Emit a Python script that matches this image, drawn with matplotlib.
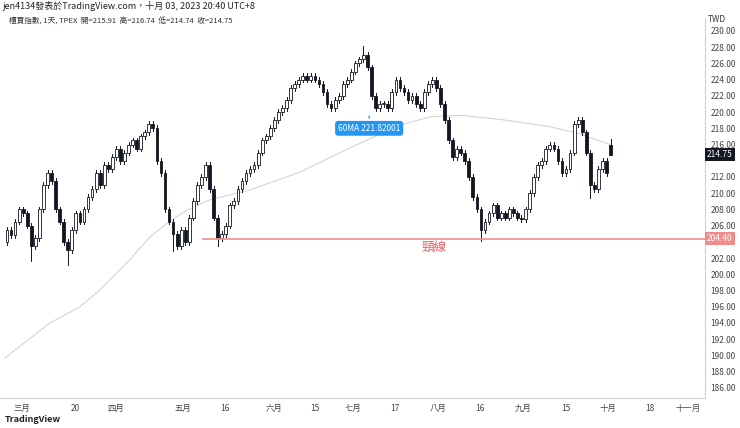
import matplotlib.pyplot as plt
from matplotlib.patches import Rectangle

plt.rcParams['font.family'] = ['Noto Sans CJK TC', 'DejaVu Sans']

closes = [205.5, 204.8, 206.5, 208.0, 207.5, 206.0, 203.5, 204.5, 208.0, 211.0,
          212.5, 211.5, 208.0, 206.5, 204.0, 203.0, 205.5, 207.5, 206.5, 208.0,
          209.5, 210.5, 212.5, 211.0, 213.5, 213.0, 214.5, 215.5, 214.0, 215.0,
          216.0, 216.5, 215.5, 217.0, 217.5, 218.5, 218.0, 214.0, 212.5, 208.0,
          206.5, 205.0, 203.5, 205.5, 204.0, 207.0, 209.0, 211.0, 212.0, 213.5,
          210.5, 207.0, 204.5, 205.0, 206.0, 208.5, 209.0, 210.5, 211.5, 212.5,
          213.0, 213.5, 215.0, 216.5, 217.0, 218.0, 219.0, 220.0, 220.5, 221.5,
          223.0, 223.5, 224.0, 224.5, 224.0, 224.5, 224.0, 223.5, 222.5, 221.0,
          220.5, 221.5, 222.0, 223.5, 224.0, 225.0, 226.0, 226.5, 227.0, 225.5,
          222.0, 220.5, 221.0, 221.0, 220.5, 222.5, 224.0, 223.0, 222.5, 221.5,
          222.0, 221.0, 220.5, 222.5, 223.5, 224.0, 223.0, 221.0, 219.0, 216.5,
          214.5, 215.5, 215.0, 214.0, 212.0, 209.5, 208.0, 205.5, 206.5, 207.5,
          208.5, 207.0, 207.5, 207.0, 208.0, 207.5, 207.0, 206.8, 208.0, 210.0,
          212.0, 213.5, 214.0, 215.5, 216.0, 215.5, 214.0, 212.5, 213.0, 215.0,
          218.5, 219.0, 217.5, 215.0, 211.0, 210.5, 213.0, 214.0, 212.5, 214.75]
first_open = 204.0
last_bar = dict(o=215.91, h=216.74, l=214.74)
spikes = {6: (0, 1.5), 15: (0, 1.5), 41: (0, 1.8), 52: (0, 0.6), 88: (0.8, 0), 117: (0, 1.0), 144: (0, 1.3)}

ma_idx = [-0.5, 10.6, 18.0, 23.0, 29.6, 35.3, 39.5, 44.4, 50.1, 60.0, 72.3, 84.7,
          97.0, 104.4, 111.9, 121.7, 134.0, 141.5, 148.9]
ma_val = [189.7, 194.0, 196.0, 198.1, 201.4, 204.6, 206.3, 207.9, 209.2, 210.4, 212.6, 215.6,
          218.4, 219.4, 219.6, 219.1, 218.2, 217.3, 216.0]

neck = 204.40
tick_pos = [3.7, 16.8, 26.7, 43.5, 53.8, 65.9, 76.0, 85.4, 95.8, 106.4, 116.8, 127.4, 138.0, 148.4, 158.8, 168.1]
tick_lab = ['三月', '20', '四月', '五月', '16', '六月', '15', '七月', '17', '八月', '16', '九月', '15', '十月', '18', '十一月']

fig = plt.figure(figsize=(7.4, 4.28), dpi=100)
ax = fig.add_axes([0, 30/428, 705/740, 380/428])
dark = '#131722'
prev = first_open
n = len(closes)
for i, c in enumerate(closes):
    o = prev if i < n - 1 else last_bar['o']
    up_w, lo_w = spikes.get(i, (0, 0))
    h = max(o, c) + 0.35 + up_w
    l = min(o, c) - 0.35 - lo_w
    if i == n - 1:
        h, l = last_bar['h'], last_bar['l']
    ax.plot([i, i], [l, h], color=dark, lw=0.7, zorder=2)
    bot, top = min(o, c), max(o, c)
    if top - bot < 0.15:
        top = bot + 0.15
    face = 'white' if c >= o else dark
    ax.add_patch(Rectangle((i - 0.34, bot), 0.68, top - bot, facecolor=face,
                           edgecolor=dark, lw=0.6, zorder=3))
    prev = c

ax.plot(ma_idx, ma_val, color='#d4d4d4', lw=0.8, zorder=1)
ax.plot([48.5, 175], [neck, neck], color='#f28b8b', lw=1.2, zorder=4)
ax.text(105.5, 203.3, '頸線', color='#e55b5b', fontsize=9, ha='center', va='center')

ax.annotate('60MA 221.82001', xy=(89.4, 219.5), xytext=(89.4, 218.0),
            ha='center', va='center', fontsize=6, color='white',
            bbox=dict(boxstyle='round,pad=0.35', fc='#2196f3', ec='none'),
            arrowprops=dict(arrowstyle='-', color='#2196f3'))

ax.set_xlim(-1.73, 172.3)
ax.set_ylim(184.75, 231.6)
ax.yaxis.tick_right()
yt = [v for v in range(186, 231, 2) if v not in (204, 214)]
ax.set_yticks(yt)
ax.set_yticklabels([f'{v:.2f}' for v in yt], fontsize=6, color='#444')
ax.set_xticks(tick_pos)
ax.set_xticklabels(tick_lab, fontsize=6, color='#444')
ax.tick_params(length=0, pad=4)
for s in ['top', 'left']:
    ax.spines[s].set_visible(False)
ax.spines['right'].set_color('#d0d0d0')
ax.spines['bottom'].set_color('#d0d0d0')

for val, col in [(neck, '#f28b8b'), (214.75, dark)]:
    ax.text(1.003, (val - 184.75) / (231.6 - 184.75), f'{val:.2f}', transform=ax.transAxes,
            fontsize=6, color='white', va='center', ha='left', zorder=10,
            bbox=dict(boxstyle='square,pad=0.25', fc=col, ec='none'))

fig.text(0.003, 0.978, 'jen4134發表於TradingView.com，十月 03, 2023 20:40 UTC+8', fontsize=6.5, color='#222')
fig.text(0.012, 0.945, '櫃買指數, 1天, TPEX  開=215.91  高=216.74  低=214.74  收=214.75', fontsize=5.5, color='#333')
fig.text(0.968, 0.948, 'TWD', fontsize=6, color='#333', ha='center')
fig.text(0.006, 0.015, 'TradingView', fontsize=6.5, color='#222', weight='bold')
fig.savefig('out.png', dpi=100)
